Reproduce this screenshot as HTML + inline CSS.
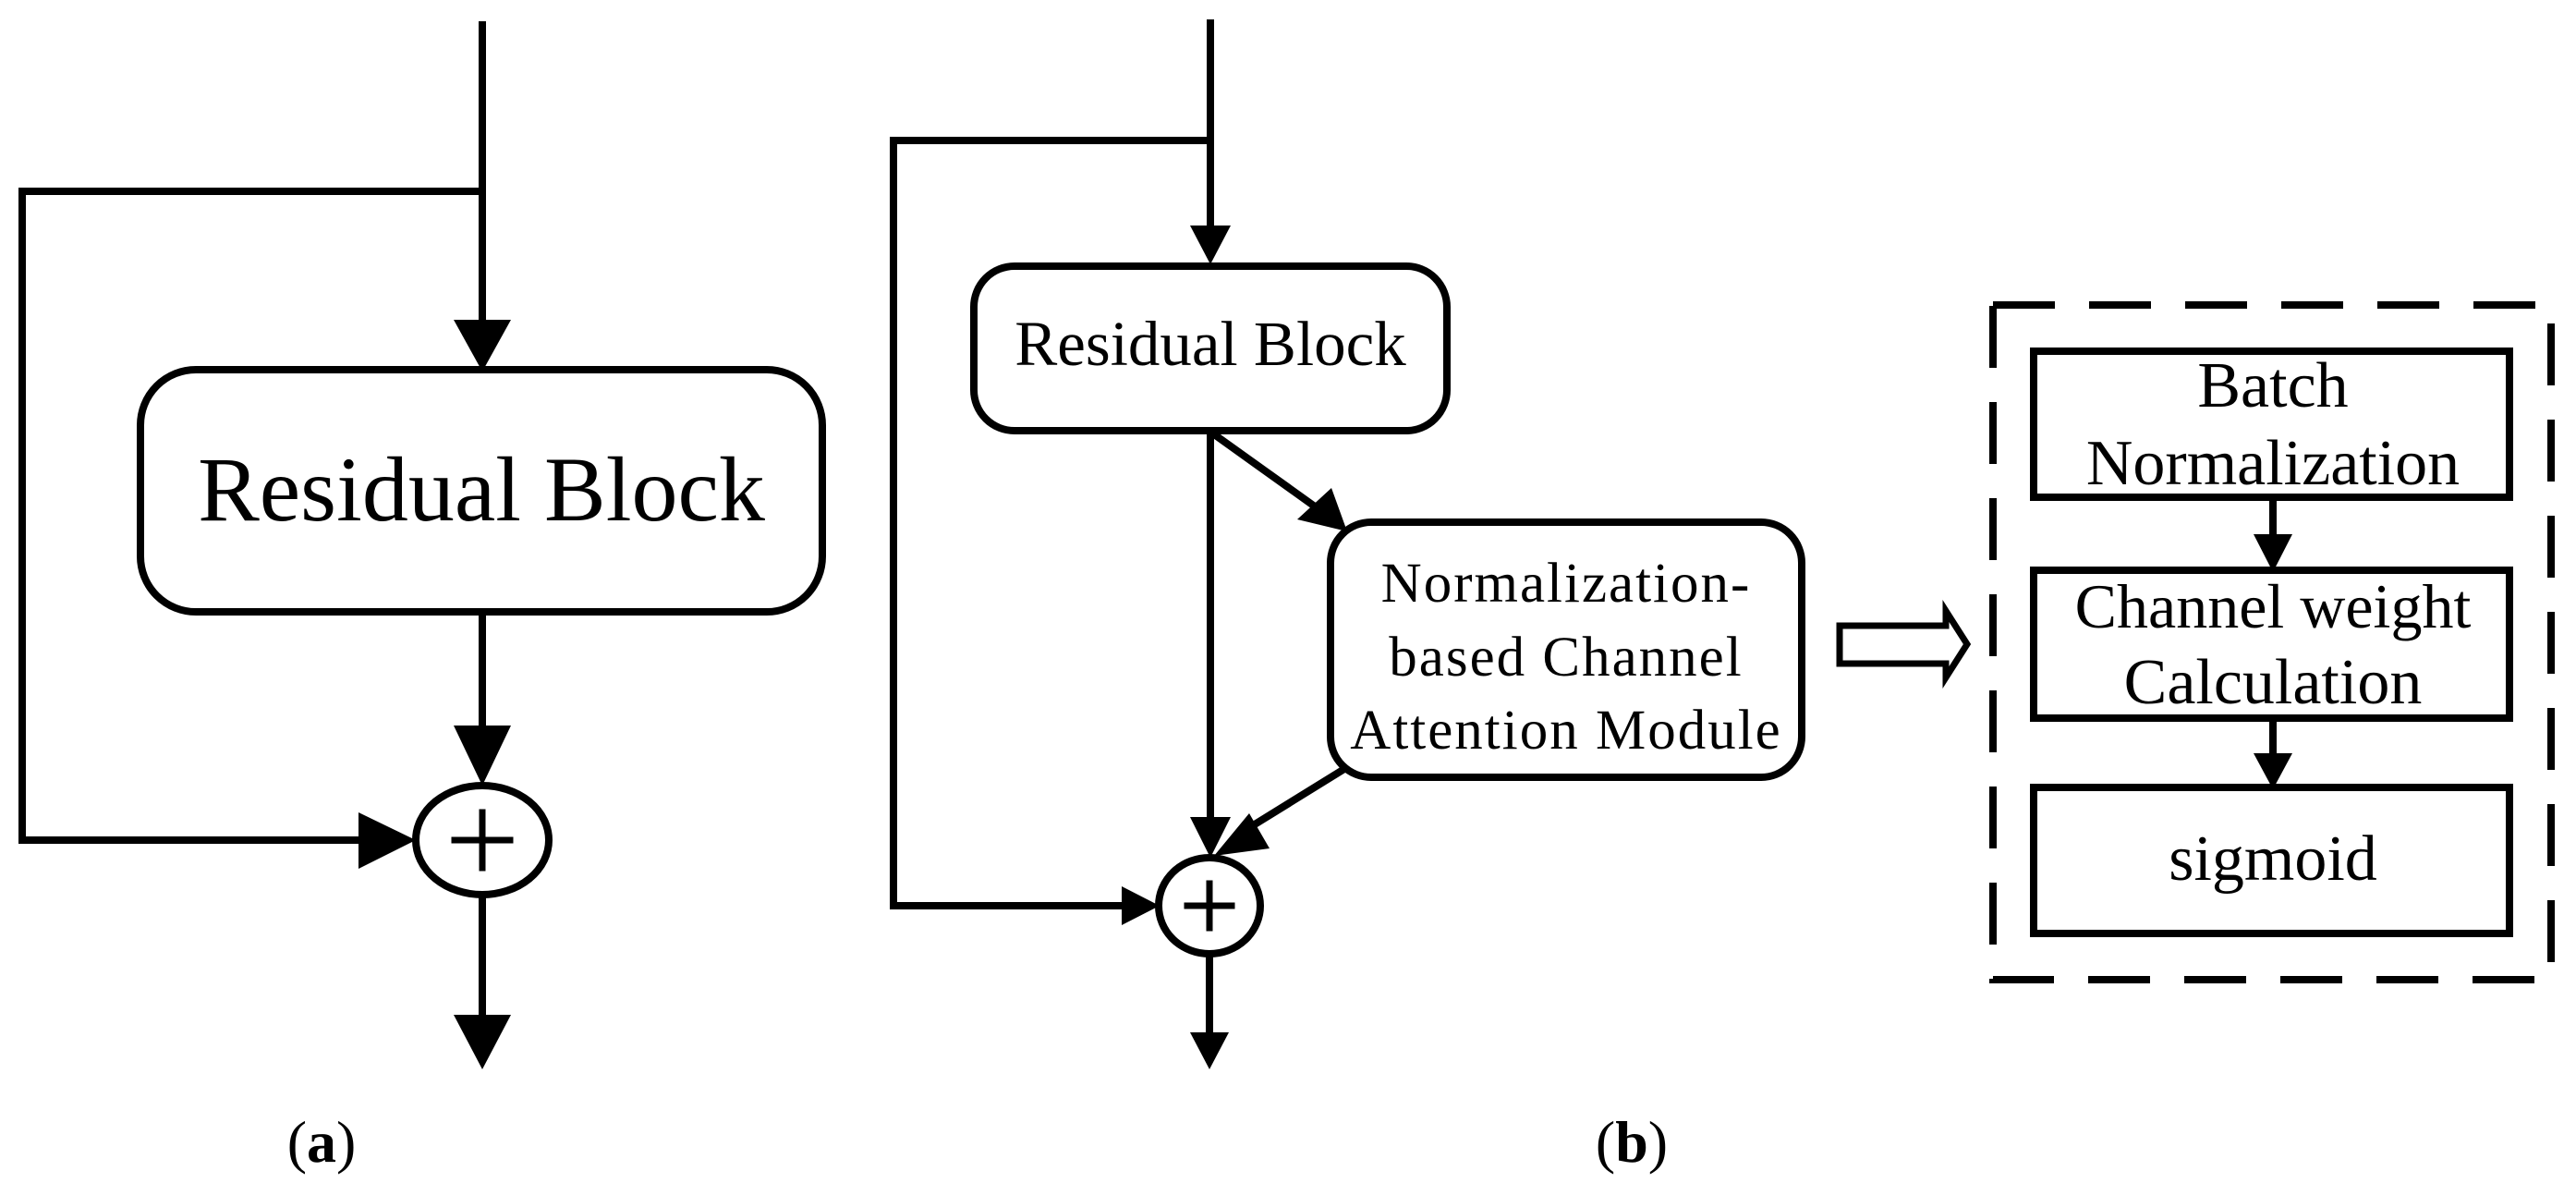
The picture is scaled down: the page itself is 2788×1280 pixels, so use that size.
<!DOCTYPE html>
<html><head><meta charset="utf-8"><style>
html,body{margin:0;padding:0;background:#fff;}
svg{display:block;}
text{font-family:"Liberation Serif",serif;fill:#000;}
</style></head><body>
<svg width="2788" height="1280" viewBox="0 0 2788 1280" xmlns="http://www.w3.org/2000/svg">
<g stroke="#000" stroke-width="8" fill="none" stroke-linecap="square">
<!-- (a) -->
<line x1="522" y1="27" x2="522" y2="350"/>
<polyline points="522,207 24,207 24,909 395,909"/>
<rect x="152" y="400" width="738" height="262" rx="60" ry="60"/>
<line x1="522" y1="662" x2="522" y2="790"/>
<ellipse cx="522" cy="909" rx="72" ry="59"/>
<line x1="522" y1="968" x2="522" y2="1100"/>
<line x1="492" y1="909" x2="552" y2="909" stroke-width="7"/>
<line x1="522" y1="879" x2="522" y2="939" stroke-width="7"/>
<!-- (b) -->
<line x1="1310" y1="25" x2="1310" y2="250"/>
<polyline points="1310,152 967,152 967,980 1220,980"/>
<rect x="1054" y="288" width="512" height="178" rx="44" ry="44"/>
<line x1="1310" y1="466" x2="1310" y2="890"/>
<line x1="1314" y1="470" x2="1430" y2="553"/>
<rect x="1440" y="565" width="510" height="276" rx="44" ry="44"/>
<line x1="1455" y1="832" x2="1345" y2="900"/>
<ellipse cx="1309" cy="980" rx="55" ry="52"/>
<line x1="1309" y1="1032" x2="1309" y2="1120"/>
<line x1="1285" y1="980" x2="1333" y2="980" stroke-width="7"/>
<line x1="1309" y1="956" x2="1309" y2="1004" stroke-width="7"/>
<!-- right panel -->
<rect x="2157" y="330" width="604" height="730" stroke-dasharray="67 37" stroke-linecap="butt"/>
<rect x="2201" y="380" width="515" height="158"/>
<rect x="2201" y="617" width="515" height="160"/>
<rect x="2201" y="852" width="515" height="158"/>
<line x1="2460" y1="538" x2="2460" y2="585"/>
<line x1="2460" y1="777" x2="2460" y2="820"/>
<polygon points="1991,677 2106,677 2106,661 2129,697 2106,733 2106,718 1991,718" stroke-width="7" stroke-linejoin="miter"/>
</g>
<g fill="#000">
<polygon points="491,346 553,346 522,402"/>
<polygon points="491,785 553,785 522,850"/>
<polygon points="388,879 388,940 450,909"/>
<polygon points="491,1098 553,1098 522,1157"/>
<polygon points="1288,244 1332,244 1310,286"/>
<polygon points="1288,884 1332,884 1310,928"/>
<polygon points="1404,562 1441,528 1458,575"/>
<polygon points="1352,880 1374,918 1314,926"/>
<polygon points="1214,959 1214,1001 1255,980"/>
<polygon points="1288,1117 1330,1117 1309,1157"/>
<polygon points="2439,578 2481,578 2460,619"/>
<polygon points="2439,815 2481,815 2460,854"/>
</g>
<text x="521" y="563" font-size="100" text-anchor="middle">Residual Block</text>
<text x="1310" y="395" font-size="69" text-anchor="middle">Residual Block</text>
<text x="1695" y="651" font-size="61" text-anchor="middle" letter-spacing="2">Normalization-</text>
<text x="1695" y="731" font-size="61" text-anchor="middle" letter-spacing="2">based Channel</text>
<text x="1695" y="810" font-size="61" text-anchor="middle" letter-spacing="2">Attention Module</text>
<text x="2460" y="440" font-size="70" text-anchor="middle">Batch</text>
<text x="2460" y="524" font-size="70" text-anchor="middle">Normalization</text>
<text x="2460" y="679" font-size="68" text-anchor="middle">Channel weight</text>
<text x="2460" y="761" font-size="70" text-anchor="middle">Calculation</text>
<text x="2460" y="952" font-size="70" text-anchor="middle">sigmoid</text>
<text x="348" y="1257" font-size="64" text-anchor="middle">(<tspan font-weight="bold">a</tspan>)</text>
<text x="1766" y="1257" font-size="64" text-anchor="middle">(<tspan font-weight="bold">b</tspan>)</text>
</svg>
</body></html>
